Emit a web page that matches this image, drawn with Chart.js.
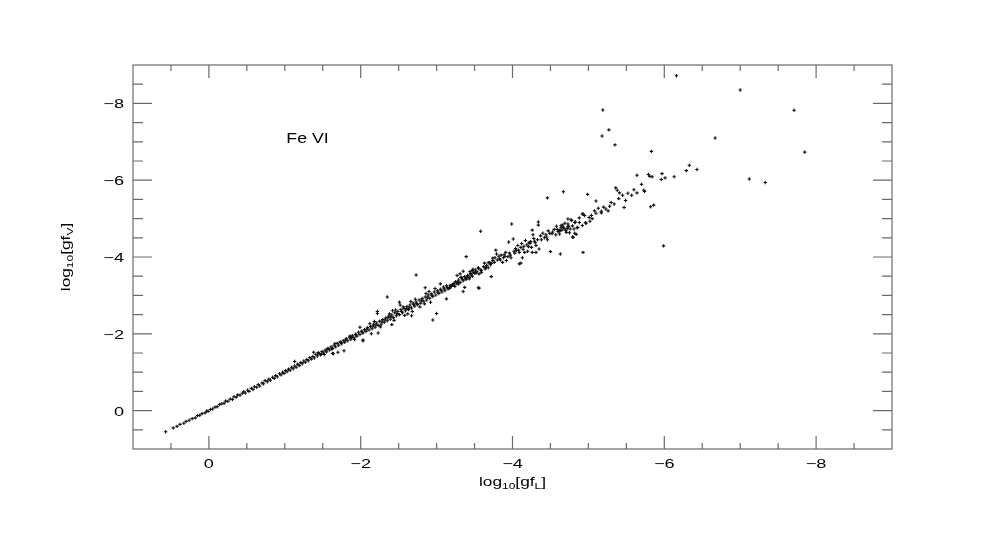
<!DOCTYPE html>
<html><head><meta charset="utf-8">
<script src="https://cdn.jsdelivr.net/npm/chart.js@4"></script>
<style>html,body{margin:0;padding:0;background:#fff}#wrap{width:981px;height:545px}</style>
</head><body><div id="wrap"><canvas id="c" width="981" height="545"></canvas></div>
<script>
// [log10 gf_L, log10 gf_V] pairs
const bandLow = [[0.57,0.55],[0.47,0.45],[0.42,0.41],[0.38,0.36],[0.33,0.33],[0.30,0.28],[0.26,0.25],[0.22,0.21],[0.18,0.19],[0.15,0.13],[0.12,0.12],[0.09,0.08],[0.05,0.06],[0.03,0.01],[0.01,0.02],[-0.02,-0.03],[-0.05,-0.04],
[-0.08,-0.09],[-0.11,-0.10],[-0.14,-0.16],[-0.17,-0.18],[-0.20,-0.19],[-0.22,-0.25],[-0.25,-0.24],[-0.28,-0.30],[-0.31,-0.29],[-0.33,-0.36],[-0.36,-0.35],[-0.38,-0.41],[-0.41,-0.40],[-0.44,-0.45],[-0.46,-0.49],[-0.48,-0.46],[-0.51,-0.53],[-0.53,-0.50],[-0.56,-0.58],[-0.58,-0.55],[-0.60,-0.62],[-0.63,-0.61],[-0.65,-0.68],[-0.67,-0.64],[-0.70,-0.72],[-0.72,-0.70],[-0.74,-0.78],[-0.77,-0.75],[-0.79,-0.82],[-0.81,-0.79],[-0.84,-0.87],[-0.86,-0.84],[-0.88,-0.91],[-0.90,-0.88],[-0.93,-0.96],[-0.95,-0.93],[-0.97,-1.00],[-0.99,-0.97]];
const bandOne = [[-1.01,-1.04],[-1.03,-1.01],[-1.05,-1.08],[-1.07,-1.05],[-1.09,-1.13],[-1.11,-1.09],[-1.13,-1.16],[-1.15,-1.13],[-1.17,-1.21],[-1.19,-1.17],[-1.21,-1.25],[-1.23,-1.22],[-1.25,-1.29],[-1.27,-1.26],[-1.29,-1.33],[-1.31,-1.30],[-1.33,-1.38],[-1.35,-1.34],[-1.37,-1.41],[-1.39,-1.37],[-1.41,-1.46],[-1.43,-1.42],[-1.45,-1.49],[-1.47,-1.45],[-1.49,-1.54],[-1.51,-1.50],[-1.53,-1.57],[-1.55,-1.53],[-1.57,-1.62],[-1.59,-1.58],[-1.61,-1.66],[-1.63,-1.62],[-1.65,-1.70],[-1.67,-1.66],[-1.69,-1.75],[-1.71,-1.70],[-1.73,-1.79],[-1.75,-1.74],[-1.77,-1.82],[-1.79,-1.78],[-1.81,-1.87],[-1.83,-1.82],[-1.85,-1.91],[-1.87,-1.86],[-1.89,-1.95],[-1.91,-1.90],[-1.93,-1.99],[-1.95,-1.94],[-1.97,-2.04],[-1.99,-1.98],
[-1.13,-1.28],[-1.38,-1.52],[-1.63,-1.49],[-1.70,-1.52],[-1.78,-1.56],[-1.64,-1.48],[-1.99,-2.17],[-2.03,-1.82],[-2.03,-1.84],[-1.44,-1.51],[-1.52,-1.46],[-1.66,-1.74],[-1.86,-1.94],[-1.92,-1.85]];
const bandTwo = [[-2.01,-2.07],[-2.03,-2.02],[-2.05,-2.11],[-2.07,-2.06],[-2.09,-2.16],[-2.11,-2.10],[-2.13,-2.19],[-2.15,-2.13],[-2.17,-2.25],[-2.19,-2.17],[-2.21,-2.28],[-2.23,-2.22],[-2.25,-2.33],[-2.27,-2.25],[-2.29,-2.37],[-2.31,-2.30],[-2.33,-2.41],[-2.35,-2.34],[-2.37,-2.46],[-2.39,-2.38],[-2.41,-2.49],[-2.43,-2.42],[-2.45,-2.55],[-2.47,-2.47],[-2.49,-2.58],[-2.51,-2.50],[-2.53,-2.63],[-2.55,-2.55],[-2.57,-2.66],[-2.59,-2.60],[-2.61,-2.71],[-2.63,-2.63],[-2.65,-2.75],[-2.67,-2.67],[-2.69,-2.80],[-2.71,-2.72],[-2.73,-2.83],[-2.75,-2.76],[-2.77,-2.88],[-2.79,-2.80],[-2.81,-2.92],[-2.83,-2.85],[-2.85,-2.96],[-2.87,-2.88],[-2.89,-3.01],[-2.91,-2.93],[-2.93,-3.04],[-2.95,-2.97],[-2.97,-3.09],[-2.99,-3.01],
[-2.12,-2.26],[-2.26,-2.18],[-2.38,-2.52],[-2.44,-2.35],[-2.56,-2.70],[-2.62,-2.52],[-2.72,-2.90],[-2.78,-2.70],[-2.86,-3.05],[-2.92,-2.82],[-2.98,-3.18],[-2.46,-2.62],[-2.58,-2.48],[-2.68,-2.58],[-2.84,-2.78],
[-2.14,-2.00],[-2.23,-2.02],[-2.41,-2.24],[-2.22,-2.58],[-2.22,-2.53],[-2.35,-2.96],[-2.51,-2.82],[-2.52,-2.75],[-2.67,-2.47],[-2.73,-3.53],[-2.85,-3.20],[-3.00,-2.53],[-2.95,-2.36]];
const bandThree = [[-3.01,-3.12],[-3.03,-3.05],[-3.05,-3.16],[-3.07,-3.09],[-3.09,-3.22],[-3.11,-3.12],[-3.13,-3.25],[-3.15,-3.17],[-3.17,-3.19],[-3.19,-3.23],[-3.21,-3.28],[-3.23,-3.27],[-3.25,-3.36],[-3.27,-3.30],[-3.29,-3.40],[-3.31,-3.34],[-3.33,-3.46],[-3.35,-3.38],[-3.37,-3.49],[-3.39,-3.42],[-3.41,-3.52],[-3.43,-3.47],[-3.45,-3.56],[-3.47,-3.50],[-3.49,-3.60],
[-3.13,-2.91],[-3.35,-3.10],[-3.37,-3.21],[-3.55,-3.20],[-3.56,-3.19],[-3.58,-4.67],[-3.39,-4.01],
[-3.63,-3.84],[-3.62,-3.75],[-3.64,-3.69],[-3.59,-3.65],[-3.55,-3.72],[-3.51,-3.66],[-3.47,-3.65],[-3.45,-3.56],[-3.41,-3.52],[-3.43,-3.43],[-3.50,-3.58],[-3.56,-3.56],[-3.59,-3.60],[-3.68,-3.72],[-3.72,-3.49],[-3.35,-3.63],[-3.31,-3.56],[-3.32,-3.47],[-3.38,-3.43],[-3.26,-3.34],[-3.21,-3.28],[-3.19,-3.23],[-3.17,-3.19],[-3.24,-3.23],[-3.29,-3.30],
[-3.78,-4.18],[-3.79,-4.08],[-3.77,-3.98],[-3.83,-3.95],[-3.89,-4.06],[-3.96,-4.10],[-3.98,-3.98],[-3.92,-3.91],[-3.87,-3.86],[-3.94,-4.01],[-3.74,-3.91],[-3.70,-3.86],
[-3.85,-4.05],[-3.88,-3.98],[-3.91,-4.12],[-3.66,-3.78],[-3.68,-3.85],[-3.71,-3.80],[-3.74,-3.97],[-3.80,-3.92],[-3.82,-4.02],[-3.55,-3.70],[-3.53,-3.62],[-3.48,-3.68],[-3.44,-3.62],[-3.99,-4.86]];
const bandFour = [[-4.17,-4.43],[-4.22,-4.38],[-4.29,-4.41],[-4.31,-4.30],[-4.35,-4.21],[-4.25,-4.25],[-4.19,-4.32],[-4.11,-4.25],[-4.05,-4.17],[-4.09,-4.12],[-4.16,-4.12],[-4.20,-4.15],[-4.26,-4.12],[-4.31,-4.12],
[-4.42,-4.50],[-4.46,-4.45],[-4.49,-4.62],[-4.52,-4.61],[-4.57,-4.58],[-4.62,-4.69],[-4.64,-4.77],[-4.67,-4.76],[-4.70,-4.69],[-4.73,-4.79],[-4.73,-4.86],[-4.77,-4.97],[-4.82,-4.90],[-4.88,-5.02],[-4.93,-5.12],[-4.97,-4.88],[-4.85,-4.76],[-4.82,-4.62],[-4.80,-4.51],[-4.76,-4.73],[-4.62,-4.60],
[-4.50,-4.14],[-4.13,-3.98],[-4.11,-3.84],[-4.09,-3.82],
[-4.34,-4.91],[-4.34,-4.83],[-4.26,-4.70],[-4.27,-4.58],[-4.01,-4.47],[-3.95,-4.39],
[-4.02,-4.15],[-4.04,-4.22],[-4.07,-4.30],[-4.12,-4.35],[-4.14,-4.20],[-4.23,-4.35],[-4.28,-4.48],[-4.33,-4.45],[-4.37,-4.55],[-4.40,-4.62],[-4.44,-4.58],[-4.47,-4.68],[-4.55,-4.72],[-4.58,-4.80],[-4.60,-4.66],[-4.66,-4.83],[-4.69,-4.88],[-4.72,-4.74]];
const bandFive = [[-6.33,-6.39],[-6.29,-6.25],[-6.43,-6.28],[-5.97,-6.17],[-5.79,-6.15],[-5.81,-6.10],[-5.84,-6.09],[-5.64,-6.13],[-6.01,-6.06],[-5.96,-6.02],[-6.13,-6.09],[-5.70,-5.89],[-5.36,-5.80],[-5.38,-5.74],[-5.41,-5.67],[-5.45,-5.61],[-5.73,-5.74],[-5.74,-5.71],[-5.64,-5.67],[-5.57,-5.61],[-4.67,-5.70],[-4.99,-5.63],[-5.49,-5.47],[-5.10,-5.46],[-5.34,-5.38],[-5.28,-5.32],[-5.23,-5.25],[-5.17,-5.19],[-5.26,-5.20],[-5.47,-5.29],[-5.82,-5.31],[-5.86,-5.35],[-5.17,-5.15],[-5.10,-5.14],[-5.04,-5.08],[-5.01,-5.03],[-4.95,-5.08],[-4.92,-5.12],[-5.05,-5.00],[-4.73,-4.99],[-4.78,-4.95],[-4.83,-4.91],[-4.88,-4.90],[-4.96,-4.89],[-5.02,-4.93],[-4.64,-4.82],[-4.68,-4.75],[-4.74,-4.80],[-4.79,-4.81],[-4.86,-4.77],[-4.92,-4.82],[-4.81,-4.73],[-4.71,-4.64],[-4.75,-4.63],[-4.84,-4.59],[-4.79,-4.52],[-4.63,-4.69],[-4.93,-4.12],[-4.63,-4.08],[-4.46,-5.54]];
const bandExtra = [[-1.48,-1.47],[-1.56,-1.60],[-1.62,-1.60],[-1.74,-1.77],[-1.80,-1.84],[-1.88,-1.90],[-1.94,-1.97],[-2.02,-2.04],[-2.08,-2.12],[-2.16,-2.20],[-2.20,-2.23],[-2.28,-2.31],[-2.32,-2.36],[-2.36,-2.42],[-2.40,-2.44],[-2.48,-2.53],[-2.54,-2.58],[-2.60,-2.66],[-2.64,-2.69],[-2.70,-2.76],[-2.74,-2.79],[-2.80,-2.86],[-2.88,-2.95],[-2.94,-3.00],[-3.02,-3.08],[-3.06,-3.13],[-3.10,-3.17],[-3.14,-3.21],[-3.18,-3.26],[-3.22,-3.31],[-3.28,-3.35],[-3.34,-3.42],[-3.40,-3.47],[-3.46,-3.53],[-3.52,-3.58],[-3.58,-3.66],[-3.65,-3.73],[-3.72,-3.83],[-3.76,-3.86],[-3.84,-3.92],[-3.90,-4.02],[-3.97,-4.05],[-4.03,-4.10],[-4.08,-4.18],[-4.15,-4.28],[-4.21,-4.27],[-4.24,-4.40],[-4.30,-4.37],[-4.38,-4.45],[-4.45,-4.52],[-4.53,-4.65],[-4.59,-4.72],[-4.65,-4.70],[-5.08,-5.20],[-5.13,-5.27],[-5.20,-5.30],[-5.30,-5.42],[-5.40,-5.52],[-5.52,-5.66],[-5.60,-5.75],[-2.90,-3.10],[-2.66,-2.84],[-2.42,-2.60],[-2.18,-2.32],[-3.05,-3.30],[-3.27,-3.52]];
const outliers = [[-6.16,-8.72],[-7.00,-8.35],[-5.19,-7.83],[-7.71,-7.82],[-5.27,-7.31],[-5.18,-7.15],[-6.67,-7.10],[-5.35,-6.92],[-5.83,-6.75],[-7.85,-6.73],[-7.12,-6.03],[-7.33,-5.94],[-5.99,-4.29]];

const xTickValues = [0, -2, -4, -6, -8];
const xTickLabels = ['0', '\u22122', '\u22124', '\u22126', '\u22128'];
const yTickValues = [0, -2, -4, -6, -8];
const yTickLabels = ['0', '\u22122', '\u22124', '\u22126', '\u22128'];
const annotationText = 'Fe VI';
const xTitleParts = [['log', 0], ['10', 1], ['[gf', 0], ['L', 1], [']', 0]];
const yTitleParts = [['log', 0], ['10', 1], ['[gf', 0], ['V', 1], [']', 0]];

const FONT = '"Liberation Sans", Arial, Helvetica, sans-serif';
const AXIS_COLOR = '#6b6b6b';

function stretchedText(ctx, text, x, y, size, sx, align, baseline) {
  ctx.save();
  ctx.font = size + 'px ' + FONT;
  ctx.textAlign = align;
  ctx.textBaseline = baseline;
  ctx.translate(x, y);
  ctx.scale(sx, 1);
  ctx.fillText(text, 0, 0);
  ctx.restore();
}

function richTitle(ctx, parts, cx, cy, rot, sx) {
  ctx.save();
  ctx.translate(cx, cy);
  ctx.rotate(rot);
  ctx.scale(sx, 1);
  const big = 13, small = 9;
  let total = 0;
  parts.forEach(p => { ctx.font = (p[1] ? small : big) + 'px ' + FONT; total += ctx.measureText(p[0]).width; });
  let x = -total / 2;
  ctx.textAlign = 'left';
  ctx.textBaseline = 'alphabetic';
  ctx.fillStyle = '#000';
  parts.forEach(p => {
    ctx.font = (p[1] ? small : big) + 'px ' + FONT;
    ctx.fillText(p[0], x, p[1] ? 3 : 0);
    x += ctx.measureText(p[0]).width;
  });
  ctx.restore();
}

const framePlugin = {
  id: 'frame',
  beforeDatasetsDraw(chart) {
    const {ctx, chartArea: a, scales: {x, y}} = chart;
    ctx.save();
    ctx.strokeStyle = AXIS_COLOR;
    ctx.lineWidth = 1.2;
    ctx.strokeRect(a.left, a.top, a.right - a.left, a.bottom - a.top);
    ctx.beginPath();
    x.ticks.forEach(t => {
      const px = x.getPixelForValue(t.value);
      if (px <= a.left + 1 || px >= a.right - 1) return;
      const major = Math.abs(t.value % 2) < 1e-6;
      const len = major ? 13 : 6;
      ctx.moveTo(px, a.bottom); ctx.lineTo(px, a.bottom - len);
      ctx.moveTo(px, a.top); ctx.lineTo(px, a.top + len);
    });
    y.ticks.forEach(t => {
      const py = y.getPixelForValue(t.value);
      if (py <= a.top + 1 || py >= a.bottom - 1) return;
      const major = Math.abs(t.value % 2) < 1e-6;
      const len = major ? 19 : 10;
      ctx.moveTo(a.left, py); ctx.lineTo(a.left + len, py);
      ctx.moveTo(a.right, py); ctx.lineTo(a.right - len, py);
    });
    ctx.stroke();
    ctx.restore();
  },
  afterDraw(chart) {
    const {ctx, chartArea: a, scales: {x, y}} = chart;
    ctx.save();
    ctx.fillStyle = '#000';
    xTickValues.forEach((v, i) => {
      stretchedText(ctx, xTickLabels[i], x.getPixelForValue(v), a.bottom + 19, 12.5, 1.45, 'center', 'alphabetic');
    });
    yTickValues.forEach((v, i) => {
      stretchedText(ctx, yTickLabels[i], a.left - 9, y.getPixelForValue(v) + 5, 12.5, 1.45, 'right', 'alphabetic');
    });
    stretchedText(ctx, annotationText, x.getPixelForValue(-1.02), y.getPixelForValue(-6.97), 14, 1.27, 'left', 'alphabetic');
    richTitle(ctx, xTitleParts, (a.left + a.right) / 2, a.bottom + 37, 0, 1.33);
    richTitle(ctx, yTitleParts, 69.5, (a.top + a.bottom) / 2, -Math.PI / 2, 1.33);
    ctx.restore();
  }
};

const allPairs = [].concat(bandLow, bandOne, bandTwo, bandThree, bandFour, bandFive, bandExtra, outliers);
const points = allPairs.map(p => ({x: p[0], y: p[1]}));

new Chart(document.getElementById('c').getContext('2d'), {
  type: 'scatter',
  data: { datasets: [{ data: points, pointStyle: 'cross', radius: 1.7, borderWidth: 1.1,
    borderColor: '#111', backgroundColor: '#111' }] },
  options: {
    responsive: false, animation: false, devicePixelRatio: 1,
    plugins: { legend: { display: false }, tooltip: { enabled: false } },
    layout: { padding: { left: 133, right: 89, top: 65, bottom: 96 } },
    scales: {
      x: { type: 'linear', min: -9, max: 1, reverse: true,
        ticks: { display: false, stepSize: 0.5, maxTicksLimit: 100, autoSkip: false },
        grid: { display: false }, border: { display: false },
        afterFit(s) { s.height = 0; } },
      y: { type: 'linear', min: -9, max: 1, reverse: true,
        ticks: { display: false, stepSize: 0.5, maxTicksLimit: 100, autoSkip: false },
        grid: { display: false }, border: { display: false },
        afterFit(s) { s.width = 0; } }
    }
  },
  plugins: [framePlugin]
});
</script></body></html>
